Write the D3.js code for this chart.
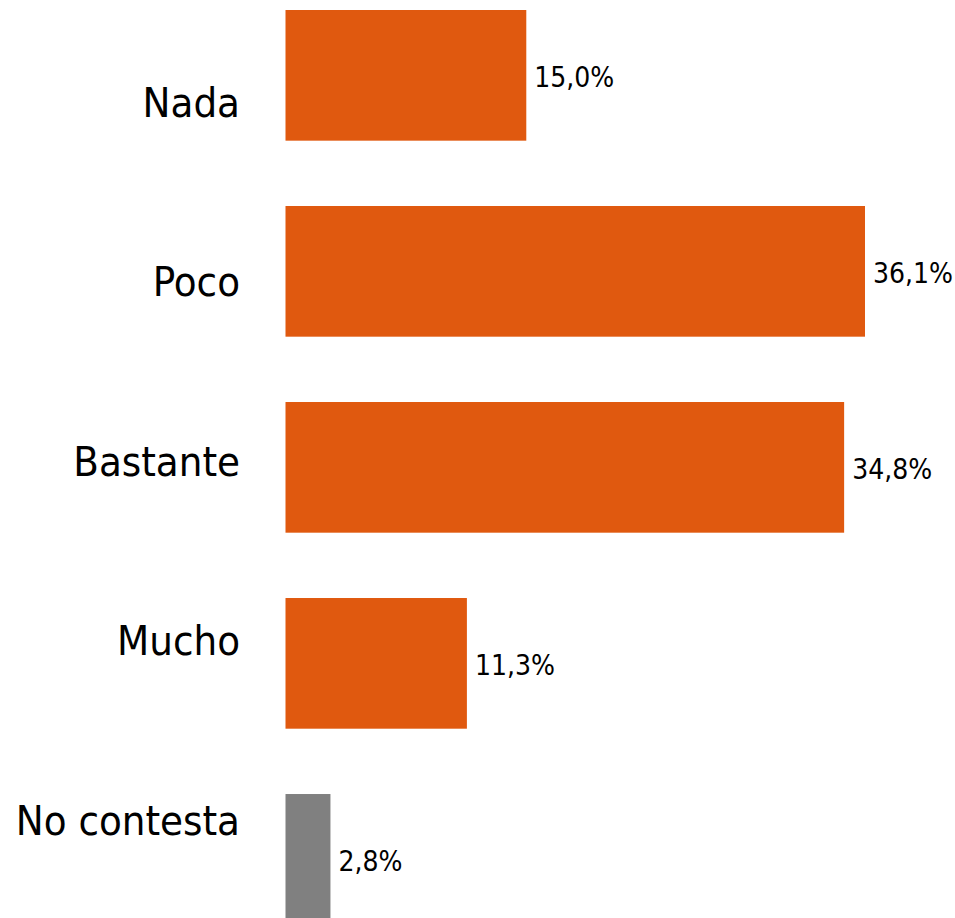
<!DOCTYPE html>
<html>
<head>
<meta charset="utf-8">
<script src="https://cdn.jsdelivr.net/npm/d3@7"></script>
<style>
  html, body { margin: 0; padding: 0; background: #ffffff; }
  svg { display: block; }
</style>
</head>
<body>
<div id="chart"></div>
<script>
const categories = ["Nada", "Poco", "Bastante", "Mucho", "No contesta"];
const values = [15.0, 36.1, 34.8, 11.3, 2.8];
const valueLabels = ["15,0%", "36,1%", "34,8%", "11,3%", "2,8%"];
const barColors = ["#E0590F", "#E0590F", "#E0590F", "#E0590F", "#808080"];

const W = 955, H = 918;
const FONT = "'DejaVu Sans Condensed', 'DejaVu Sans', sans-serif";

const svg = d3.select("#chart").append("svg")
  .attr("width", W).attr("height", H);

const x = d3.scaleLinear().domain([0, 36.1]).range([285.5, 865]);
const y = d3.scaleBand().domain(categories).range([10, 924.7]).paddingInner(0.3333).paddingOuter(0);
const yLabel = d3.scalePoint().domain(categories).range([116.7, 835]);

const data = categories.map((c, i) => ({ c, v: values[i], lab: valueLabels[i], col: barColors[i] }));

svg.selectAll("rect.bar").data(data).join("rect")
  .attr("class", "bar")
  .attr("x", x(0))
  .attr("y", d => y(d.c))
  .attr("width", d => x(d.v) - x(0))
  .attr("height", y.bandwidth())
  .attr("fill", d => d.col);

svg.selectAll("text.val").data(data).join("text")
  .attr("class", "val")
  .attr("x", d => x(d.v) + 8)
  .attr("y", d => y(d.c) + y.bandwidth() / 2 + 12)
  .attr("font-family", FONT)
  .attr("font-size", 28)
  .attr("fill", "#000")
  .text(d => d.lab);

svg.selectAll("text.cat").data(data).join("text")
  .attr("class", "cat")
  .attr("x", 240)
  .attr("y", d => yLabel(d.c))
  .attr("text-anchor", "end")
  .attr("font-family", FONT)
  .attr("font-size", 41.5)
  .attr("fill", "#000")
  .text(d => d.c);
</script>
</body>
</html>
